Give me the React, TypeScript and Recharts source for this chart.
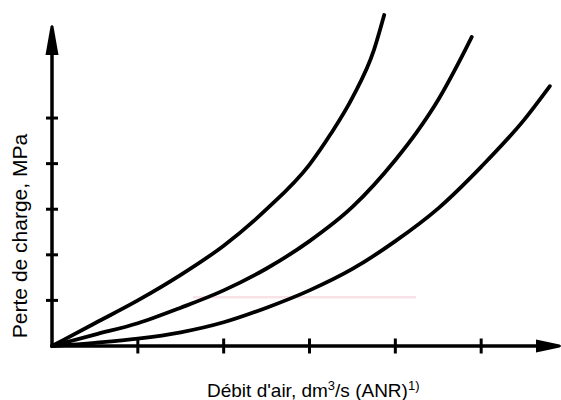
import { LineChart, Line, XAxis, YAxis, ReferenceLine, ReferenceDot, Label } from 'recharts';

// readings in tick units (one x tick = 1, one y tick = 1), origin at 0,0
const curveSteep = [
  { x: 0, y: 0 }, { x: 0.5, y: 0.5 }, { x: 1, y: 1.0 }, { x: 1.5, y: 1.56 },
  { x: 2, y: 2.2 }, { x: 2.5, y: 3.0 }, { x: 3, y: 3.98 }, { x: 3.25, y: 4.66 },
  { x: 3.5, y: 5.45 }, { x: 3.75, y: 6.49 }, { x: 3.87, y: 7.26 },
];
const curveMiddle = [
  { x: 0, y: 0 }, { x: 0.5, y: 0.25 }, { x: 1, y: 0.5 }, { x: 1.5, y: 0.84 },
  { x: 2, y: 1.22 }, { x: 2.5, y: 1.7 }, { x: 3, y: 2.3 }, { x: 3.5, y: 3.05 },
  { x: 4, y: 4.08 }, { x: 4.25, y: 4.69 }, { x: 4.5, y: 5.4 }, { x: 4.75, y: 6.26 },
  { x: 4.89, y: 6.78 },
];
const curveFlat = [
  { x: 0, y: 0 }, { x: 0.5, y: 0.07 }, { x: 1, y: 0.16 }, { x: 1.5, y: 0.3 },
  { x: 2, y: 0.52 }, { x: 2.5, y: 0.84 }, { x: 3, y: 1.22 }, { x: 3.5, y: 1.69 },
  { x: 4, y: 2.3 }, { x: 4.5, y: 3.02 }, { x: 5, y: 3.93 }, { x: 5.5, y: 4.96 },
  { x: 5.8, y: 5.7 },
];
const xTicks = [1, 2, 3, 4, 5];
const yTicks = [1, 2, 3, 4, 5];
const xMax = 5.93;
const yMax = 7.37;
const yArrowTip = 7.04;
// faint pink scan mark across the lower part
const scanMark = [{ x: 1.64, y: 1.07 }, { x: 4.24, y: 1.07 }];

const XTick = (props: any) => (
  <line x1={props.x} y1={props.y - 7.5} x2={props.x} y2={props.y + 7.5} stroke="#000" strokeWidth={3} />
);
const YTick = (props: any) => (
  <line x1={props.x - 6} y1={props.y} x2={props.x + 6} y2={props.y} stroke="#000" strokeWidth={3} />
);

const UpArrow = (props: any) => {
  const { cx, cy } = props;
  return (
    <path
      d={`M${cx - 1.5},${cy + 1.5} Q${cx},${cy - 1.5} ${cx + 1.5},${cy + 1.5} L${cx + 6.5},${cy + 30} L${cx - 6.5},${cy + 30} Z`}
      fill="#000"
    />
  );
};
const RightArrow = (props: any) => {
  const { cx, cy } = props;
  return (
    <path
      d={`M${cx - 1.5},${cy - 1.5} Q${cx + 1.5},${cy} ${cx - 1.5},${cy + 1.5} L${cx - 25},${cy + 6.5} L${cx - 25},${cy - 6.5} Z`}
      fill="#000"
    />
  );
};

const font = '"Liberation Sans", Arial, sans-serif';

const XTitle = () => (
  <text x={207} y={397} fontFamily={font} fontSize={19} fill="#000">
    Débit d'air, dm
    <tspan fontSize={13} dy={-7}>3</tspan>
    <tspan dy={7}>/s (ANR)</tspan>
    <tspan fontSize={13} dy={-7}>1)</tspan>
  </text>
);
const YTitle = () => (
  <text x={27} y={236} transform="rotate(-90, 27, 236)" textAnchor="middle" fontFamily={font} fontSize={21} fill="#000">
    Perte de charge, MPa
  </text>
);

export default function App() {
  return (
    <div style={{ position: 'absolute', left: 0, top: 0, background: '#fff' }}>
      <LineChart width={561} height={400} margin={{ top: 10, right: 0, bottom: 0, left: 0 }}>
        <XAxis
          type="number"
          dataKey="x"
          domain={[0, xMax]}
          ticks={xTicks}
          axisLine={false}
          tickLine={false}
          tickSize={0}
          tickMargin={0}
          tick={<XTick />}
          height={54}
        >
          <Label content={<XTitle />} />
        </XAxis>
        <YAxis
          type="number"
          dataKey="y"
          domain={[0, yMax]}
          ticks={yTicks}
          axisLine={false}
          tickLine={false}
          tickSize={0}
          tickMargin={0}
          tick={<YTick />}
          width={52}
        >
          <Label content={<YTitle />} />
        </YAxis>
        <ReferenceLine segment={scanMark} stroke="#f9e1e8" strokeWidth={2.5} ifOverflow="visible" />
        <ReferenceLine segment={[{ x: 0, y: 0 }, { x: 0, y: yArrowTip - 0.3 }]} stroke="#000" strokeWidth={3.5} ifOverflow="visible" />
        <ReferenceLine segment={[{ x: 0, y: 0 }, { x: xMax - 0.2, y: 0 }]} stroke="#000" strokeWidth={3.5} ifOverflow="visible" />
        <ReferenceDot x={0} y={yArrowTip} r={1} shape={<UpArrow />} ifOverflow="visible" />
        <ReferenceDot x={xMax} y={0} r={1} shape={<RightArrow />} ifOverflow="visible" />
        <Line data={curveSteep} dataKey="y" type="monotone" dot={false} stroke="#000" strokeWidth={3.8} strokeLinecap="round" isAnimationActive={false} />
        <Line data={curveMiddle} dataKey="y" type="monotone" dot={false} stroke="#000" strokeWidth={3.8} strokeLinecap="round" isAnimationActive={false} />
        <Line data={curveFlat} dataKey="y" type="monotone" dot={false} stroke="#000" strokeWidth={3.8} strokeLinecap="round" isAnimationActive={false} />
      </LineChart>
    </div>
  );
}
